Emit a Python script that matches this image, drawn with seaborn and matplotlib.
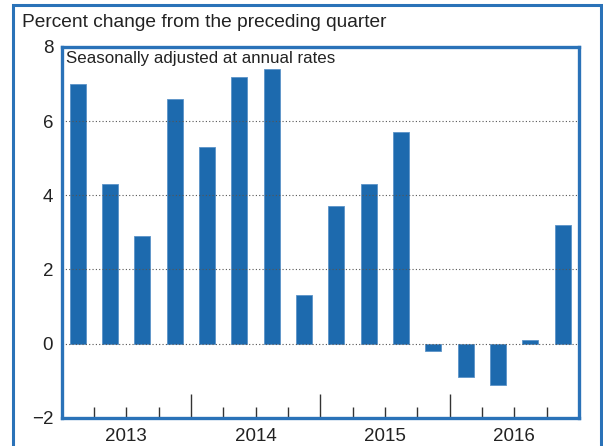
import matplotlib
matplotlib.use("Agg")
import matplotlib.pyplot as plt
import matplotlib.patches as patches
import matplotlib.transforms as mtransforms
import pandas as pd
import seaborn as sns

# quarterly data, 2013Q1 - 2016Q4
quarters = ["2013Q1", "2013Q2", "2013Q3", "2013Q4",
            "2014Q1", "2014Q2", "2014Q3", "2014Q4",
            "2015Q1", "2015Q2", "2015Q3", "2015Q4",
            "2016Q1", "2016Q2", "2016Q3", "2016Q4"]
values = [7.0, 4.3, 2.9, 6.6, 5.3, 7.2, 7.4, 1.3,
          3.7, 4.3, 5.7, -0.2, -0.9, -1.1, 0.1, 3.2]
years = ["2013", "2014", "2015", "2016"]
y_ticks = [-2, 0, 2, 4, 6, 8]

bar_color = "#1d6aae"
frame_color = "#2a72b8"

df = pd.DataFrame({"quarter": quarters, "value": values})

sns.set_style("white")
plt.rcParams["font.family"] = ["Liberation Sans", "DejaVu Sans"]

fig = plt.figure(figsize=(6.03, 4.46), dpi=100)
ax = fig.add_axes([0.102, 0.063, 0.858, 0.832])

sns.barplot(data=df, x="quarter", y="value", order=quarters, color=bar_color,
            width=0.5, saturation=1, edgecolor="#5b93c8", linewidth=0.6,
            ax=ax, zorder=2)

ax.set_xlim(-0.5, len(quarters) - 0.5)
ax.set_ylim(-2, 8)
ax.set_xlabel("")
ax.set_ylabel("")

# dotted gridlines
for v in [0, 2, 4, 6]:
    ax.axhline(v, color="#555555", linestyle=(0, (1, 2)), linewidth=0.8, zorder=3)

# y ticks outside, no tick marks
ax.set_yticks(y_ticks)
ax.set_yticklabels(["\u22122" if t < 0 else str(t) for t in y_ticks], fontsize=13.5)
ax.tick_params(axis="y", left=False, length=0, pad=6, colors="#222222")

# quarter tick marks inside the bottom, longer at year boundaries
ax.set_xticks([i + 0.5 for i in range(len(quarters) - 1)])
ax.set_xticklabels([])
ax.tick_params(axis="x", bottom=True, direction="in", length=8, width=1,
               color="#333333")
for i, t in enumerate(ax.xaxis.get_major_ticks()):
    if (i + 1) % 4 == 0:
        t.tick1line.set_markersize(17)

# year labels
trans = mtransforms.blended_transform_factory(ax.transData, ax.transAxes)
for k, yr in enumerate(years):
    ax.text(4 * k + 1.5, -0.027, yr, transform=trans, ha="center", va="top",
            fontsize=13.5, color="#222222")

for s in ax.spines.values():
    s.set_color(frame_color)
    s.set_linewidth(2.4)
    s.set_zorder(4)

ax.text(0.008, 0.988, "Seasonally adjusted at annual rates", transform=ax.transAxes,
        ha="left", va="top", fontsize=12.2, color="#222222")

fig.text(0.037, 0.968, "Percent change from the preceding quarter",
         ha="left", va="top", fontsize=13.8, color="#222222")

# outer frame
frame = patches.Rectangle((0.021, -0.1), 0.976, 1.089, transform=fig.transFigure,
                          fill=False, edgecolor=frame_color, linewidth=2.2,
                          clip_on=False)
fig.add_artist(frame)

fig.savefig("out.png", dpi=100)
